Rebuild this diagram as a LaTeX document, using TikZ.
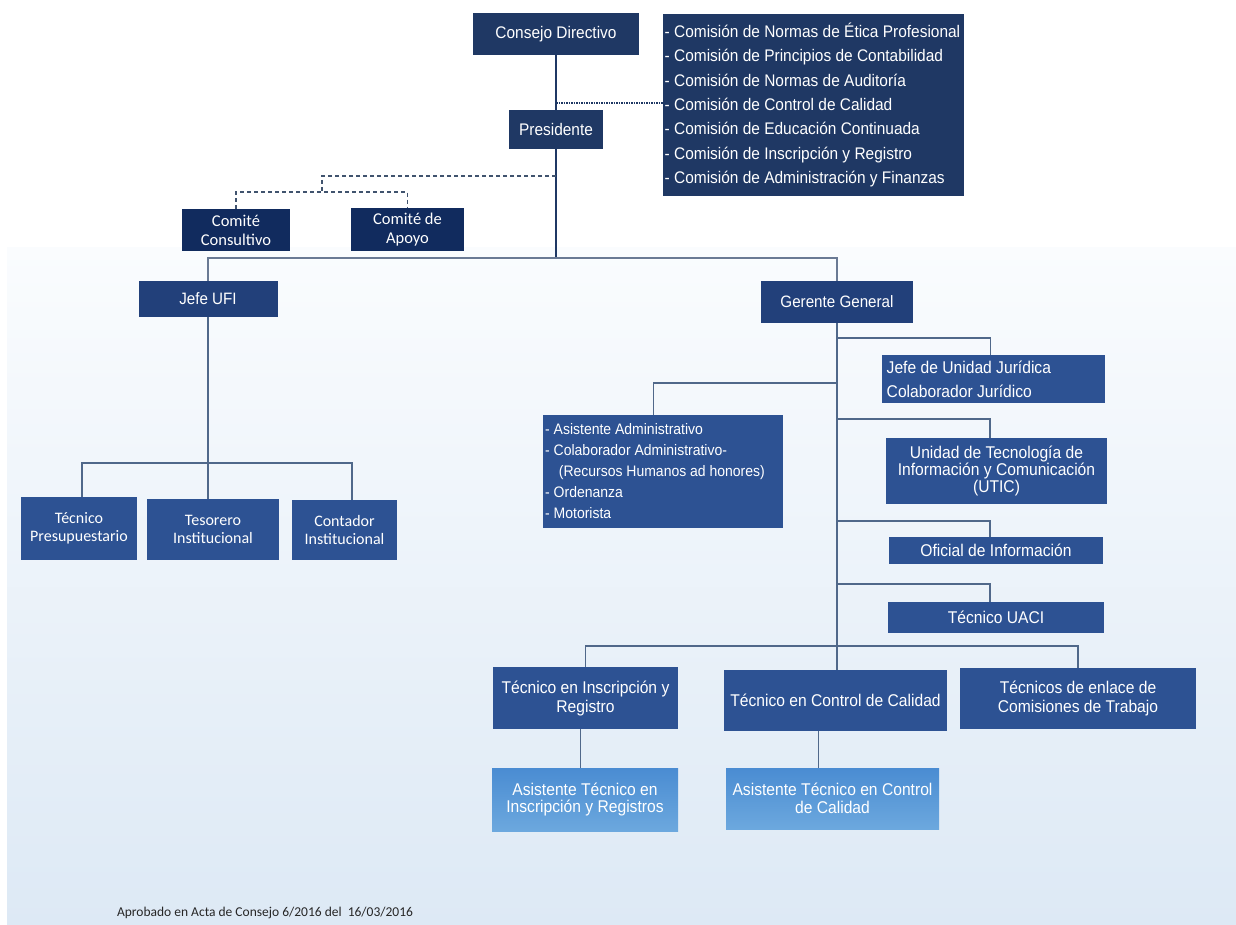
\documentclass[tikz,border=0pt]{standalone}
\usepackage{fontspec}
\setmainfont[FakeStretch=0.92]{Liberation Sans}
\newfontfamily\calfont{Carlito}
\usetikzlibrary{calc}
\definecolor{navy}{HTML}{1F3864}
\definecolor{comitecol}{HTML}{112B5E}
\definecolor{headblue}{HTML}{22407A}
\definecolor{midblue}{HTML}{2D5293}
\definecolor{lighttop}{HTML}{4A8CD2}
\definecolor{lightbot}{HTML}{6CA8DE}
\definecolor{bgtop}{HTML}{FAFCFE}
\definecolor{bgbot}{HTML}{DDE9F5}
\definecolor{linetop}{HTML}{1F3864}
\definecolor{linelow}{HTML}{50688A}
\definecolor{linemid}{HTML}{6A7A94}
\tikzset{
  base/.style={draw=none, text=white, inner sep=0pt, align=center},
  topbox/.style={base, fill=navy, font=\fontsize{16.8}{19}\selectfont},
  comitebox/.style={base, fill=comitecol, font=\calfont\fontsize{16.5}{19}\selectfont},
  headbox/.style={base, fill=headblue, font=\fontsize{16.5}{19}\selectfont},
  midbox/.style={base, fill=midblue, font=\fontsize{17}{19}\selectfont},
  ufibox/.style={base, fill=midblue, font=\calfont\fontsize{16}{18.5}\selectfont},
  lightbox/.style={base, top color=lighttop, bottom color=lightbot, font=\fontsize{17}{17.5}\selectfont},
  topline/.style={draw=linetop, line width=1.5pt},
  lowline/.style={draw=linelow, line width=1.2pt},
  dotline/.style={draw=linetop, line width=1.5pt, dash pattern=on 1.5pt off 1pt},
  dashline/.style={draw=linelow!80!black, line width=1.2pt, dash pattern=on 4pt off 3pt}
}
\begin{document}
\begin{tikzpicture}[x=1pt,y=-1pt]
\useasboundingbox (0,0) rectangle (1236,925);
\fill[white] (0,0) rectangle (1236,925);
\shade[top color=bgtop, bottom color=bgbot] (7,248) rectangle (1236,925);

% top level
\node[topbox, minimum width=166pt, minimum height=42pt] (consejo) at (556,34) {Consejo Directivo};
\node[topbox, minimum width=94pt, minimum height=39pt] (pres) at (556,129.5) {Presidente};
\node[topbox, minimum width=301pt, minimum height=182pt, align=left, anchor=west, inner xsep=1pt] (comis) at (663,105)
  {\parbox{298pt}{\fontsize{16.8}{24.4}\selectfont
  - Comisión de Normas de Ética Profesional\\
  - Comisión de Principios de Contabilidad\\
  - Comisión de Normas de Auditoría\\
  - Comisión de Control de Calidad\\
  - Comisión de Educación Continuada\\
  - Comisión de Inscripción y Registro\\
  - Comisión de Administración y Finanzas}};

% comites
\node[comitebox, minimum width=108pt, minimum height=42pt] (consult) at (236,230) {Comité\\Consultivo};
\node[comitebox, minimum width=113pt, minimum height=43pt] (apoyo) at (407.5,229.5) {Comité de\\Apoyo};

% second level
\node[headbox, minimum width=139pt, minimum height=36pt] (jefeufi) at (208,299) {Jefe UFI};
\node[headbox, minimum width=152pt, minimum height=42pt] (gerente) at (837,302) {Gerente General};

% UFI
\node[ufibox, minimum width=116pt, minimum height=63pt] (tpres) at (79,528.5) {Técnico\\Presupuestario};
\node[ufibox, minimum width=132pt, minimum height=61pt] (tesor) at (213,529.5) {Tesorero\\Institucional};
\node[ufibox, minimum width=105pt, minimum height=60pt] (conta) at (344.5,530) {Contador\\Institucional};

% Gerencia
\node[midbox, minimum width=223pt, minimum height=48pt, anchor=west] (juri) at (882,379)
  {\parbox{214pt}{\fontsize{17}{24}\selectfont Jefe de Unidad Jurídica\\Colaborador Jurídico}};
\node[midbox, minimum width=240pt, minimum height=113pt, anchor=west] (asist) at (543,471.5)
  {\parbox{236pt}{\fontsize{15.2}{21}\selectfont - Asistente Administrativo\\- Colaborador Administrativo-\\\hspace*{0.9em}(Recursos Humanos ad honores)\\- Ordenanza\\- Motorista}};
\node[midbox, minimum width=221pt, minimum height=66pt, font=\fontsize{17}{15}\selectfont] (utic) at (996.5,471)
  {Unidad de Tecnología de\\Información y Comunicación\\(UTIC)};
\node[midbox, minimum width=214pt, minimum height=27pt] (ofic) at (996,550.5) {Oficial de Información};
\node[midbox, minimum width=216pt, minimum height=31pt] (uaci) at (996,617.5) {Técnico UACI};

\node[midbox, minimum width=185pt, minimum height=62pt] (tinsc) at (585.5,698) {Técnico en Inscripción y\\Registro};
\node[midbox, minimum width=223pt, minimum height=61pt] (tcal) at (835.5,700.5) {Técnico en Control de Calidad};
\node[midbox, minimum width=236pt, minimum height=61pt] (tenl) at (1078,698.5) {Técnicos de enlace de\\Comisiones de Trabajo};

\node[lightbox, minimum width=186pt, minimum height=63pt] (atinsc) at (585,799.5) {Asistente Técnico en\\Inscripción y Registros};
\node[lightbox, minimum width=213pt, minimum height=61pt] (atcal) at (832.5,798.5) {Asistente Técnico en Control\\de Calidad};

\node[text=black!85, font=\calfont\fontsize{13.5}{16}\selectfont, inner sep=0pt] (foot) at (265,913) {Aprobado en Acta de Consejo 6/2016 del \ 16/03/2016};

% connectors top
\coordinate (dotp) at (556,103);
\coordinate (dashp) at (556,176);
\coordinate (mainj) at (556,258);
\coordinate (dashk) at (322,192);
\draw[topline] (consejo) -- (pres);
\draw[topline] (pres.south) -- (mainj);
\draw[dotline] (dotp) -- (dotp -| comis.west);
\draw[dashline] (dashp) -- (dashp -| dashk) -- (dashk);
\draw[dashline] (consult.north) |- (dashk) -| (apoyo.north);
\draw[draw=linemid, line width=2pt] (jefeufi.north) |- (mainj) -| (gerente.north);

% UFI
\coordinate (ufij) at (208,463);
\draw[lowline] (jefeufi.south) -- (jefeufi.south |- tesor.north);
\draw[lowline] ([xshift=3pt]tpres.north) |- (ufij) -| ([xshift=7.5pt]conta.north);

% Gerencia trunk
\coordinate (g1) at (837,338);
\coordinate (g2) at (837,383);
\coordinate (g3) at (837,419);
\coordinate (g4) at (837,521);
\coordinate (g5) at (837,584);
\coordinate (g6) at (837,646);
\draw[lowline] (gerente.south) -- (g6);
\draw[lowline] (g1) -| ([xshift=-3.5pt]juri.north);
\draw[lowline] (g2) -| ([xshift=-10pt]asist.north);
\draw[lowline] (g3) -| ([xshift=-6.5pt]utic.north);
\draw[lowline] (g4) -| ([xshift=-6pt]ofic.north);
\draw[lowline] (g5) -| ([xshift=-6pt]uaci.north);
\draw[lowline] (tinsc.north) |- (g6) -| (tenl.north);
\draw[lowline] (g6) -- (g6 |- tcal.north);
\draw[lowline] ([xshift=-5pt]tinsc.south) -- ([xshift=-5pt]tinsc.south |- atinsc.north);
\draw[lowline] ([xshift=-17pt]tcal.south) -- ([xshift=-17pt]tcal.south |- atcal.north);
\end{tikzpicture}
\end{document}
